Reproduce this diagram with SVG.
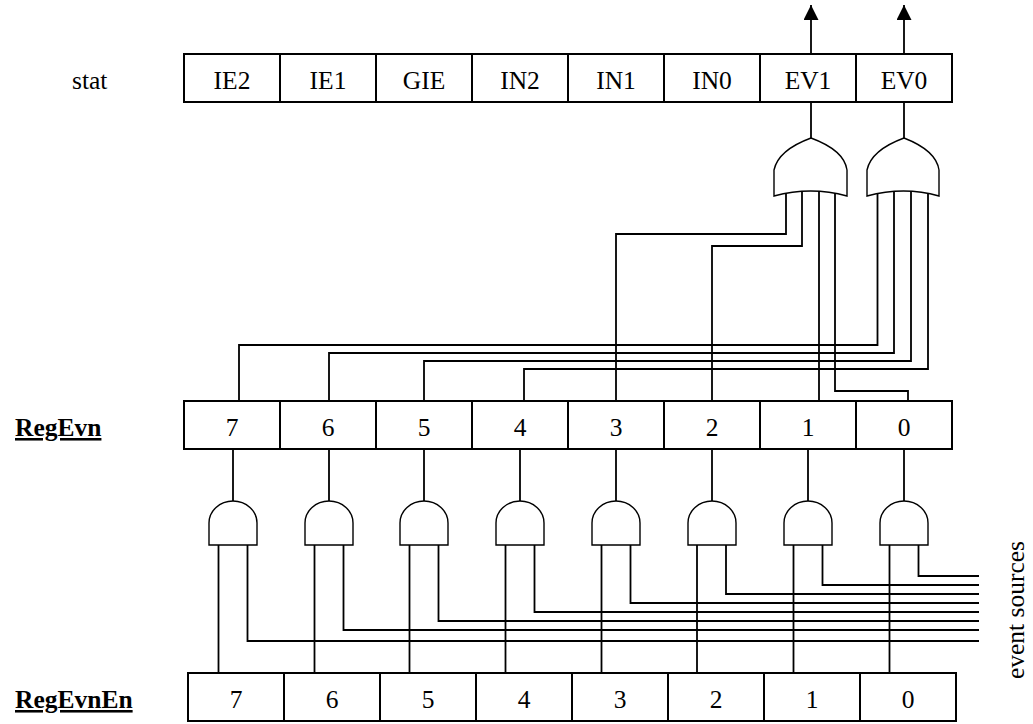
<svg xmlns="http://www.w3.org/2000/svg" width="1033" height="724" viewBox="0 0 1033 724">
<style>
text{font-family:"Liberation Serif","Times New Roman",serif;font-size:25.5px;fill:#000}
.c{text-anchor:middle}
.lbl{font-weight:bold;text-decoration:underline;text-decoration-thickness:2.5px}
.box{fill:#fff;stroke:#000;stroke-width:2}
.w{fill:none;stroke:#000;stroke-width:1.8}
.g{fill:#fff;stroke:#000;stroke-width:1.4}
</style>
<defs>
<marker id="ah" markerWidth="16" markerHeight="16" refX="15" refY="7.5" orient="auto" markerUnits="userSpaceOnUse" viewBox="0 0 16 16">
<path d="M0,0 L15,7.5 L0,15 Z" fill="#000"/>
</marker>
</defs>
<g id="connectors">
<line class="w" x1="811" y1="54" x2="811" y2="5" marker-end="url(#ah)"/>
<line class="w" x1="904" y1="54" x2="904" y2="5" marker-end="url(#ah)"/>
<line class="w" x1="811" y1="102" x2="811" y2="140"/>
<line class="w" x1="904" y1="102" x2="904" y2="140"/>
<polyline class="w" points="786,190 786,234 616,234 616,401"/>
<polyline class="w" points="802,190 802,246 712,246 712,401"/>
<polyline class="w" points="819,190 819,401"/>
<polyline class="w" points="835,190 835,391 908,391 908,401"/>
<polyline class="w" points="877.5,190 877.5,345 239,345 239,401"/>
<polyline class="w" points="894,190 894,353 329,353 329,401"/>
<polyline class="w" points="911,190 911,361 424,361 424,401"/>
<polyline class="w" points="928,190 928,369 524,369 524,401"/>
<line class="w" x1="233" y1="449" x2="233" y2="503"/>
<line class="w" x1="329" y1="449" x2="329" y2="503"/>
<line class="w" x1="424" y1="449" x2="424" y2="503"/>
<line class="w" x1="520" y1="449" x2="520" y2="503"/>
<line class="w" x1="616" y1="449" x2="616" y2="503"/>
<line class="w" x1="712" y1="449" x2="712" y2="503"/>
<line class="w" x1="808" y1="449" x2="808" y2="503"/>
<line class="w" x1="904" y1="449" x2="904" y2="503"/>
<line class="w" x1="218.5" y1="545" x2="218.5" y2="673"/>
<line class="w" x1="314.5" y1="545" x2="314.5" y2="673"/>
<line class="w" x1="409.5" y1="545" x2="409.5" y2="673"/>
<line class="w" x1="505.5" y1="545" x2="505.5" y2="673"/>
<line class="w" x1="601.5" y1="545" x2="601.5" y2="673"/>
<line class="w" x1="697" y1="545" x2="697" y2="673"/>
<line class="w" x1="793.5" y1="545" x2="793.5" y2="673"/>
<line class="w" x1="889.5" y1="545" x2="889.5" y2="673"/>
<polyline class="w" points="247.5,545 247.5,641 979,641"/>
<polyline class="w" points="343.5,545 343.5,630 979,630"/>
<polyline class="w" points="438.5,545 438.5,621 979,621"/>
<polyline class="w" points="534.5,545 534.5,612 979,612"/>
<polyline class="w" points="630.5,545 630.5,603 979,603"/>
<polyline class="w" points="726,545 726,594 979,594"/>
<polyline class="w" points="822.5,545 822.5,585 979,585"/>
<polyline class="w" points="918.5,545 918.5,576 979,576"/>
</g>
<g id="stat-label"><text x="72" y="89">stat</text></g>
<g id="stat">
<rect class="box" x="184" y="54" width="768" height="48"/>
<line class="box" x1="280" y1="54" x2="280" y2="102"/>
<line class="box" x1="376" y1="54" x2="376" y2="102"/>
<line class="box" x1="472" y1="54" x2="472" y2="102"/>
<line class="box" x1="568" y1="54" x2="568" y2="102"/>
<line class="box" x1="664" y1="54" x2="664" y2="102"/>
<line class="box" x1="760" y1="54" x2="760" y2="102"/>
<line class="box" x1="856" y1="54" x2="856" y2="102"/>
<text class="c" x="232" y="89">IE2</text>
<text class="c" x="328" y="89">IE1</text>
<text class="c" x="424" y="89">GIE</text>
<text class="c" x="520" y="89">IN2</text>
<text class="c" x="616" y="89">IN1</text>
<text class="c" x="712" y="89">IN0</text>
<text class="c" x="808" y="89">EV1</text>
<text class="c" x="904" y="89">EV0</text>
</g>
<g id="or-ev1"><path class="g" d="M811,138 C792,145 777,156 774,170 L774,196 Q811,186 847,196 L847,170 C845,156 830,145 811,138 Z"/></g>
<g id="or-ev0"><path class="g" d="M904,138 C885,145 870,156 867,170 L867,196 Q904,186 939,196 L939,170 C937,156 922,145 904,138 Z"/></g>
<g id="regevn-label"><text class="lbl" x="15" y="436">RegEvn</text></g>
<g id="regevn">
<rect class="box" x="184" y="401" width="768" height="48"/>
<line class="box" x1="280" y1="401" x2="280" y2="449"/>
<line class="box" x1="376" y1="401" x2="376" y2="449"/>
<line class="box" x1="472" y1="401" x2="472" y2="449"/>
<line class="box" x1="568" y1="401" x2="568" y2="449"/>
<line class="box" x1="664" y1="401" x2="664" y2="449"/>
<line class="box" x1="760" y1="401" x2="760" y2="449"/>
<line class="box" x1="856" y1="401" x2="856" y2="449"/>
<text class="c" x="232" y="436">7</text>
<text class="c" x="328" y="436">6</text>
<text class="c" x="424" y="436">5</text>
<text class="c" x="520" y="436">4</text>
<text class="c" x="616" y="436">3</text>
<text class="c" x="712" y="436">2</text>
<text class="c" x="808" y="436">1</text>
<text class="c" x="904" y="436">0</text>
</g>
<g id="and7"><path class="g" d="M209,545 L209,523 A24,22 0 0 1 257,523 L257,545 Z"/></g>
<g id="and6"><path class="g" d="M305,545 L305,523 A24,22 0 0 1 353,523 L353,545 Z"/></g>
<g id="and5"><path class="g" d="M400,545 L400,523 A24,22 0 0 1 448,523 L448,545 Z"/></g>
<g id="and4"><path class="g" d="M496,545 L496,523 A24,22 0 0 1 544,523 L544,545 Z"/></g>
<g id="and3"><path class="g" d="M592,545 L592,523 A24,22 0 0 1 640,523 L640,545 Z"/></g>
<g id="and2"><path class="g" d="M688,545 L688,523 A24,22 0 0 1 736,523 L736,545 Z"/></g>
<g id="and1"><path class="g" d="M784,545 L784,523 A24,22 0 0 1 832,523 L832,545 Z"/></g>
<g id="and0"><path class="g" d="M880,545 L880,523 A24,22 0 0 1 928,523 L928,545 Z"/></g>
<g id="regevnen-label"><text class="lbl" x="15" y="708">RegEvnEn</text></g>
<g id="regevnen">
<rect class="box" x="188" y="673" width="768" height="48"/>
<line class="box" x1="284" y1="673" x2="284" y2="721"/>
<line class="box" x1="380" y1="673" x2="380" y2="721"/>
<line class="box" x1="476" y1="673" x2="476" y2="721"/>
<line class="box" x1="572" y1="673" x2="572" y2="721"/>
<line class="box" x1="668" y1="673" x2="668" y2="721"/>
<line class="box" x1="764" y1="673" x2="764" y2="721"/>
<line class="box" x1="860" y1="673" x2="860" y2="721"/>
<text class="c" x="236" y="708">7</text>
<text class="c" x="332" y="708">6</text>
<text class="c" x="428" y="708">5</text>
<text class="c" x="524" y="708">4</text>
<text class="c" x="620" y="708">3</text>
<text class="c" x="716" y="708">2</text>
<text class="c" x="812" y="708">1</text>
<text class="c" x="908" y="708">0</text>
</g>
<g id="event-sources-label"><text class="c" transform="translate(1024,610) rotate(-90)">event sources</text></g>
</svg>
